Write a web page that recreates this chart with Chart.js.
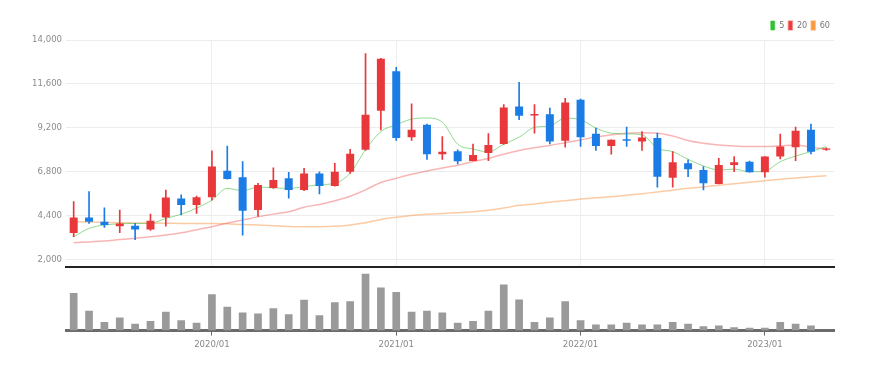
<!DOCTYPE html>
<html>
<head>
<meta charset="utf-8">
<script src="https://cdn.jsdelivr.net/npm/chart.js@4.4.1/dist/chart.umd.min.js"></script>
<style>
  html, body { margin: 0; padding: 0; background: #fff; }
  #wrap { position: relative; width: 876px; height: 370px; }
  #priceBox { position: absolute; left: 0; top: 0; width: 876px; height: 277px; }
  #volBox { position: absolute; left: 0; top: 267px; width: 876px; height: 103px; }
</style>
</head>
<body>
<div id="wrap">
  <div id="priceBox"><canvas id="priceChart"></canvas></div>
  <div id="volBox"><canvas id="volChart"></canvas></div>
</div>
<script>
const months = [
  '2019/04','2019/05','2019/06','2019/07','2019/08','2019/09','2019/10','2019/11','2019/12',
  '2020/01','2020/02','2020/03','2020/04','2020/05','2020/06','2020/07','2020/08','2020/09','2020/10','2020/11','2020/12',
  '2021/01','2021/02','2021/03','2021/04','2021/05','2021/06','2021/07','2021/08','2021/09','2021/10','2021/11','2021/12',
  '2022/01','2022/02','2022/03','2022/04','2022/05','2022/06','2022/07','2022/08','2022/09','2022/10','2022/11','2022/12',
  '2023/01','2023/02','2023/03','2023/04','2023/05'
];

// monthly candles
const opens  = [3440,4290,4050,3810,3840,3630,4290,5330,4970,5400,6850,6490,4690,5900,6430,5790,6700,6010,6790,7990,10130,12290,8680,9360,7750,
                7910,7380,7820,8310,10365,9870,9930,8490,10730,8865,8200,8570,8440,8630,6465,7255,6890,6120,7160,7340,6760,7620,8135,9085,8000];
const closes = [4290,4050,3880,3960,3630,4110,5380,4970,5390,7070,6390,4660,6070,6340,5790,6700,6010,6790,7770,9910,12970,8630,9085,7750,7890,
                7370,7710,8260,10310,9850,9950,8440,10580,8680,8200,8535,8480,8660,6520,7310,6925,6160,7160,7310,6760,7620,8170,9030,7890,8060];
const highs  = [5150,5700,4820,4690,3960,4470,5790,5520,5460,7930,8190,7340,6160,7010,6760,6980,6790,7250,8020,13260,12990,12510,10500,9400,8720,
                7990,8310,8880,10460,11680,10460,10275,10810,10770,9180,8535,9235,8990,8900,7890,7440,7070,7530,7620,7370,7620,8850,9235,9400,8100];
const lows   = [3230,3960,3740,3450,3070,3580,3810,4420,4510,5240,6380,3320,4340,5880,5340,5760,5570,6000,6700,7950,9080,8500,8500,7470,7470,
                7220,7380,7400,8290,9635,8900,8315,8135,8170,7950,7750,8170,7950,5940,5940,6520,5790,6120,6790,6760,6490,7490,7400,7770,7960];

// moving averages
const ma5  = [3230,3690,3870,3940,3960,3970,4240,4460,4800,5240,5880,5750,5950,5910,5880,5970,6080,6160,6710,7990,8990,9360,9670,9730,9500,
              8300,8030,7880,8300,8680,9220,9300,9720,9640,9180,8900,8860,8810,8080,7890,7470,7110,6890,6930,6790,6830,7340,7650,7890,8170];
const ma20 = [2900,2950,3000,3080,3150,3230,3330,3450,3620,3780,3980,4150,4320,4470,4600,4850,5000,5200,5450,5800,6200,6430,6650,6830,7000,
              7150,7350,7520,7750,7950,8100,8230,8380,8530,8700,8810,8900,8920,8900,8750,8500,8350,8260,8200,8170,8170,8200,8250,8130,8030];
const ma60 = [4050,4040,4020,4000,3990,3980,3970,3960,3960,3960,3940,3900,3870,3830,3790,3780,3780,3800,3880,4000,4180,4300,4400,4460,4510,
              4550,4600,4680,4800,4950,5030,5120,5200,5300,5360,5420,5500,5590,5680,5780,5880,5960,6050,6130,6210,6300,6380,6450,6510,6570];

const volumes = [367,193,83,127,67,93,183,100,77,353,233,177,167,217,160,300,150,277,287,553,420,377,183,193,177,
                 77,93,193,450,303,83,127,287,100,60,60,77,60,60,83,67,43,50,33,27,27,83,67,50,1];

const priceTicks = [2000, 4400, 6800, 9200, 11600, 14000];

const UP = '#e8383b';
const DOWN = '#1c7ce6';
const FONT = "'Liberation Sans Narrow', 'DejaVu Sans Condensed', 'Liberation Sans', sans-serif";

function candleColor(i) {
    return closes[i] >= opens[i] ? UP : DOWN;
}

function isYearStart(ctx) {
    if (!ctx.tick) return false;
    const m = months[ctx.tick.value];
    return m ? m.endsWith('/01') : false;
}

new Chart(document.getElementById('priceChart'), {
    type: 'bar',
    data: {
        labels: months,
        datasets: [{
            label: 'body',
            data: opens.map((o, i) => [o, closes[i]]),
            backgroundColor: ctx => candleColor(ctx.dataIndex),
            grouped: false,
            barPercentage: 0.52,
            categoryPercentage: 1,
            order: 0
        }, {
            label: 'wick',
            data: lows.map((l, i) => [l, highs[i]]),
            backgroundColor: ctx => candleColor(ctx.dataIndex),
            grouped: false,
            barThickness: 1,
            order: 1
        }, {
            type: 'line',
            label: '5',
            data: ma5,
            borderColor: 'rgba(70,195,70,0.6)',
            backgroundColor: '#2fbf2f',
            borderWidth: 1,
            pointRadius: 0,
            cubicInterpolationMode: 'monotone',
            order: 2
        }, {
            type: 'line',
            label: '20',
            data: ma20,
            borderColor: 'rgba(240,90,90,0.45)',
            backgroundColor: '#ec3b3b',
            borderWidth: 1.5,
            pointRadius: 0,
            cubicInterpolationMode: 'monotone',
            order: 3
        }, {
            type: 'line',
            label: '60',
            data: ma60,
            borderColor: 'rgba(250,160,90,0.55)',
            backgroundColor: '#fb9a3a',
            borderWidth: 1.5,
            pointRadius: 0,
            cubicInterpolationMode: 'monotone',
            order: 4
        }]
    },
    options: {
        responsive: true,
        maintainAspectRatio: false,
        animation: false,
        layout: { padding: { left: 0, right: 42, top: 17, bottom: 3 } },
        plugins: {
            tooltip: { enabled: false },
            legend: {
                position: 'top',
                align: 'end',
                labels: {
                    boxWidth: 4,
                    boxHeight: 9,
                    padding: 4,
                    color: '#777',
                    font: { size: 9, family: FONT },
                    filter: item => item.datasetIndex >= 2
                }
            }
        },
        scales: {
            x: {
                offset: true,
                grid: {
                    offset: false,
                    drawTicks: false,
                    color: ctx => isYearStart(ctx) ? '#eeeeee' : 'rgba(0,0,0,0)'
                },
                border: { color: '#222', width: 2 },
                ticks: { display: false }
            },
            y: {
                min: 1560,
                max: 14000,
                afterBuildTicks: scale => { scale.ticks = priceTicks.map(v => ({ value: v })); },
                afterFit: scale => { scale.width = 66; },
                grid: { color: '#ececec', drawTicks: false },
                border: { display: false },
                ticks: {
                    padding: 4,
                    color: '#8c8c8c',
                    font: { size: 9.5, family: FONT },
                    callback: v => v.toLocaleString('en-US')
                }
            }
        }
    }
});

new Chart(document.getElementById('volChart'), {
    type: 'bar',
    data: {
        labels: months,
        datasets: [{
            label: 'volume',
            data: volumes,
            backgroundColor: '#9a9a9a',
            barPercentage: 0.5,
            categoryPercentage: 1
        }]
    },
    options: {
        responsive: true,
        maintainAspectRatio: false,
        animation: false,
        layout: { padding: { left: 66, right: 42, top: 2, bottom: 17 } },
        plugins: {
            tooltip: { enabled: false },
            legend: { display: false }
        },
        scales: {
            x: {
                offset: true,
                grid: {
                    offset: false,
                    drawOnChartArea: false,
                    tickLength: 5,
                    tickColor: ctx => isYearStart(ctx) ? '#666' : 'rgba(0,0,0,0)'
                },
                border: { color: '#6b6b6b', width: 3 },
                ticks: {
                    autoSkip: false,
                    maxRotation: 0,
                    padding: 3,
                    color: '#888',
                    font: { size: 9.5, family: FONT },
                    callback: (v, i) => months[i].endsWith('/01') ? months[i] : ''
                }
            },
            y: {
                display: false,
                min: 0,
                max: 600
            }
        }
    }
});
</script>
</body>
</html>
